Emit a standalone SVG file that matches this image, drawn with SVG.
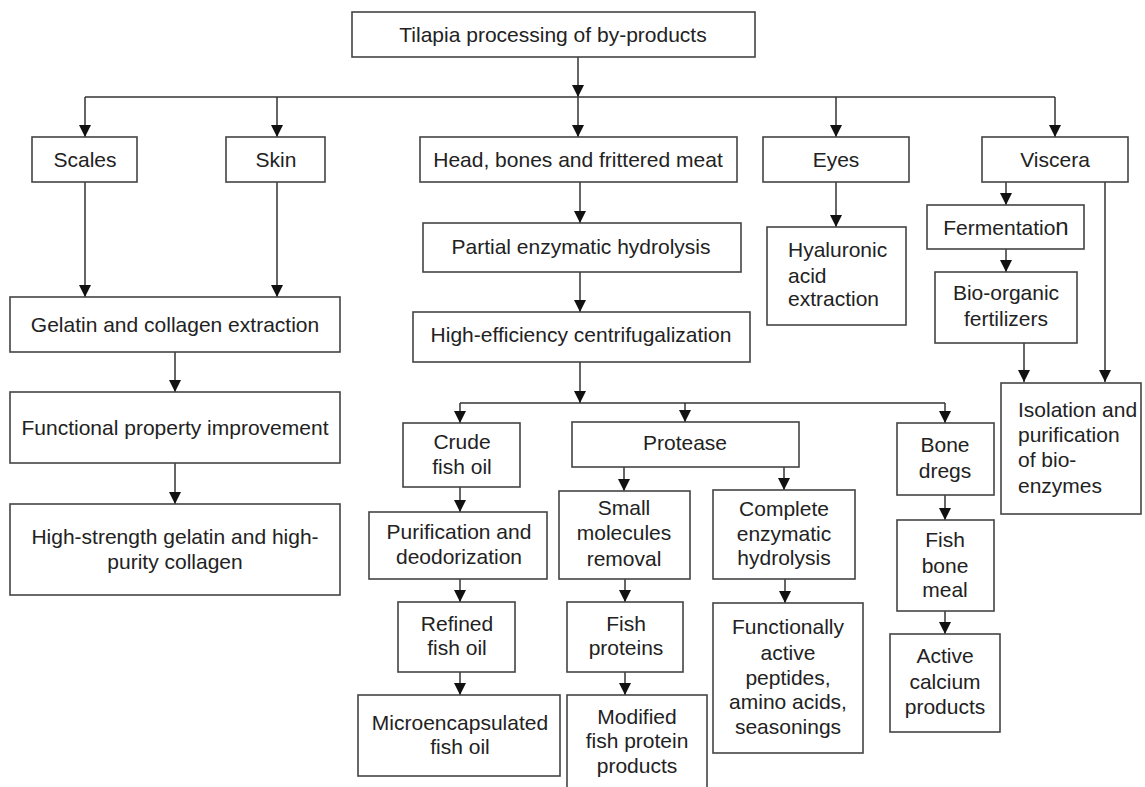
<svg xmlns="http://www.w3.org/2000/svg" width="1145" height="787" viewBox="0 0 1145 787">
<style>
  .box { fill: #ffffff; stroke: #444444; stroke-width: 1.6; }
  .t { font-family: "Liberation Sans", Arial, Helvetica, sans-serif; font-size: 21px; fill: #222222; text-anchor: middle; }
  .tl { font-family: "Liberation Sans", Arial, Helvetica, sans-serif; font-size: 21px; fill: #222222; text-anchor: start; }
  .c { fill: none; stroke: #333333; stroke-width: 1.5; }
  .ca { fill: none; stroke: #333333; stroke-width: 1.5; marker-end: url(#ah); }
</style>
<defs>
  <marker id="ah" markerUnits="userSpaceOnUse" markerWidth="12" markerHeight="12" refX="12" refY="6" orient="auto">
    <path d="M0,0 L12,6 L0,12 Z" fill="#111111"/>
  </marker>
</defs>
<rect width="1145" height="787" fill="#ffffff"/>

<g id="connectors">
  <path class="ca" d="M578,57 V97"/>
  <path class="c" d="M85,97 H1055"/>
  <path class="ca" d="M85,97 V137"/>
  <path class="ca" d="M277,97 V137"/>
  <path class="ca" d="M578,97 V137"/>
  <path class="ca" d="M836,97 V137"/>
  <path class="ca" d="M1055,97 V137"/>
  <path class="ca" d="M85,182 V297"/>
  <path class="ca" d="M277,182 V297"/>
  <path class="ca" d="M175,352 V392"/>
  <path class="ca" d="M175,463 V504"/>
  <path class="ca" d="M580,182 V223"/>
  <path class="ca" d="M580,272 V312"/>
  <path class="ca" d="M580,362 V403"/>
  <path class="c" d="M460,403 H945"/>
  <path class="ca" d="M460,403 V423"/>
  <path class="ca" d="M685,403 V422"/>
  <path class="ca" d="M945,403 V423"/>
  <path class="ca" d="M460,487 V512"/>
  <path class="ca" d="M460,579 V602"/>
  <path class="ca" d="M460,672 V695"/>
  <path class="ca" d="M624,467 V491"/>
  <path class="ca" d="M784,467 V490"/>
  <path class="ca" d="M625,579 V602"/>
  <path class="ca" d="M625,672 V695"/>
  <path class="ca" d="M785,579 V603"/>
  <path class="ca" d="M945,495 V520"/>
  <path class="ca" d="M945,611 V634"/>
  <path class="ca" d="M836,182 V227"/>
  <path class="ca" d="M1006,182 V205"/>
  <path class="ca" d="M1006,249 V272"/>
  <path class="ca" d="M1024,343 V382"/>
  <path class="ca" d="M1105,182 V382"/>
</g>

<g id="n-title"><rect class="box" x="352" y="12" width="403" height="45"/><text class="t" x="553" y="42">Tilapia processing of by-products</text></g>
<g id="n-scales"><rect class="box" x="32" y="137" width="105" height="45"/><text class="t" x="85" y="167">Scales</text></g>
<g id="n-skin"><rect class="box" x="226" y="137" width="99" height="45"/><text class="t" x="276" y="167">Skin</text></g>
<g id="n-head"><rect class="box" x="420" y="137" width="317" height="45"/><text class="t" x="578" y="167">Head, bones and frittered meat</text></g>
<g id="n-eyes"><rect class="box" x="763" y="137" width="146" height="45"/><text class="t" x="836" y="167">Eyes</text></g>
<g id="n-viscera"><rect class="box" x="982" y="137" width="146" height="45"/><text class="t" x="1055" y="167">Viscera</text></g>

<g id="n-gelatin"><rect class="box" x="10" y="297" width="330" height="55"/><text class="t" x="175" y="332">Gelatin and collagen extraction</text></g>
<g id="n-functional"><rect class="box" x="10" y="392" width="330" height="71"/><text class="t" x="175" y="435">Functional property improvement</text></g>
<g id="n-highstrength"><rect class="box" x="10" y="504" width="330" height="91"/><text class="t" x="175" y="544">High-strength gelatin and high-</text><text class="t" x="175" y="569">purity collagen</text></g>

<g id="n-partial"><rect class="box" x="423" y="223" width="318" height="49"/><text class="t" x="581" y="254">Partial enzymatic hydrolysis</text></g>
<g id="n-centrifugal"><rect class="box" x="413" y="312" width="337" height="50"/><text class="t" x="581" y="342">High-efficiency centrifugalization</text></g>

<g id="n-crude"><rect class="box" x="403" y="423" width="117" height="64"/><text class="t" x="462" y="449">Crude</text><text class="t" x="462" y="474">fish oil</text></g>
<g id="n-purification"><rect class="box" x="369" y="512" width="178" height="67"/><text class="t" x="459" y="539">Purification and</text><text class="t" x="459" y="564">deodorization</text></g>
<g id="n-refined"><rect class="box" x="398" y="602" width="117" height="70"/><text class="t" x="457" y="631">Refined</text><text class="t" x="457" y="655">fish oil</text></g>
<g id="n-micro"><rect class="box" x="358" y="695" width="202" height="81"/><text class="t" x="460" y="730">Microencapsulated</text><text class="t" x="460" y="754">fish oil</text></g>

<g id="n-protease"><rect class="box" x="572" y="422" width="227" height="45"/><text class="t" x="685" y="450">Protease</text></g>
<g id="n-small"><rect class="box" x="559" y="491" width="131" height="88"/><text class="t" x="624" y="515">Small</text><text class="t" x="624" y="540">molecules</text><text class="t" x="624" y="566">removal</text></g>
<g id="n-fishproteins"><rect class="box" x="567" y="602" width="116" height="70"/><text class="t" x="626" y="631">Fish</text><text class="t" x="626" y="655">proteins</text></g>
<g id="n-modified"><rect class="box" x="567" y="695" width="140" height="95"/><text class="t" x="637" y="724">Modified</text><text class="t" x="637" y="748">fish protein</text><text class="t" x="637" y="773">products</text></g>

<g id="n-complete"><rect class="box" x="713" y="490" width="142" height="89"/><text class="t" x="784" y="516">Complete</text><text class="t" x="784" y="541">enzymatic</text><text class="t" x="784" y="565">hydrolysis</text></g>
<g id="n-functionally"><rect class="box" x="713" y="603" width="150" height="150"/><text class="t" x="788" y="634">Functionally</text><text class="t" x="788" y="660">active</text><text class="t" x="788" y="685">peptides,</text><text class="t" x="788" y="709">amino acids,</text><text class="t" x="788" y="734">seasonings</text></g>

<g id="n-bonedregs"><rect class="box" x="897" y="423" width="97" height="72"/><text class="t" x="945" y="452">Bone</text><text class="t" x="945" y="478">dregs</text></g>
<g id="n-bonemeal"><rect class="box" x="897" y="520" width="97" height="91"/><text class="t" x="945" y="547">Fish</text><text class="t" x="945" y="573">bone</text><text class="t" x="945" y="597">meal</text></g>
<g id="n-calcium"><rect class="box" x="890" y="634" width="110" height="98"/><text class="t" x="945" y="663">Active</text><text class="t" x="945" y="689">calcium</text><text class="t" x="945" y="714">products</text></g>

<g id="n-hyaluronic"><rect class="box" x="767" y="227" width="139" height="98"/><text class="tl" x="788" y="257">Hyaluronic</text><text class="tl" x="788" y="283">acid</text><text class="tl" x="788" y="306">extraction</text></g>
<g id="n-fermentation"><rect class="box" x="927" y="205" width="157" height="44"/><text class="t" x="1006" y="235">Fermentatio<tspan font-size="24">n</tspan></text></g>
<g id="n-bioorganic"><rect class="box" x="935" y="272" width="142" height="71"/><text class="t" x="1006" y="300">Bio-organic</text><text class="t" x="1006" y="326">fertilizers</text></g>
<g id="n-isolation"><rect class="box" x="1001" y="383" width="140" height="131"/><text class="tl" x="1018" y="417">Isolation and</text><text class="tl" x="1018" y="442">purification</text><text class="tl" x="1018" y="467">of bio-</text><text class="tl" x="1018" y="493">enzymes</text></g>
</svg>
